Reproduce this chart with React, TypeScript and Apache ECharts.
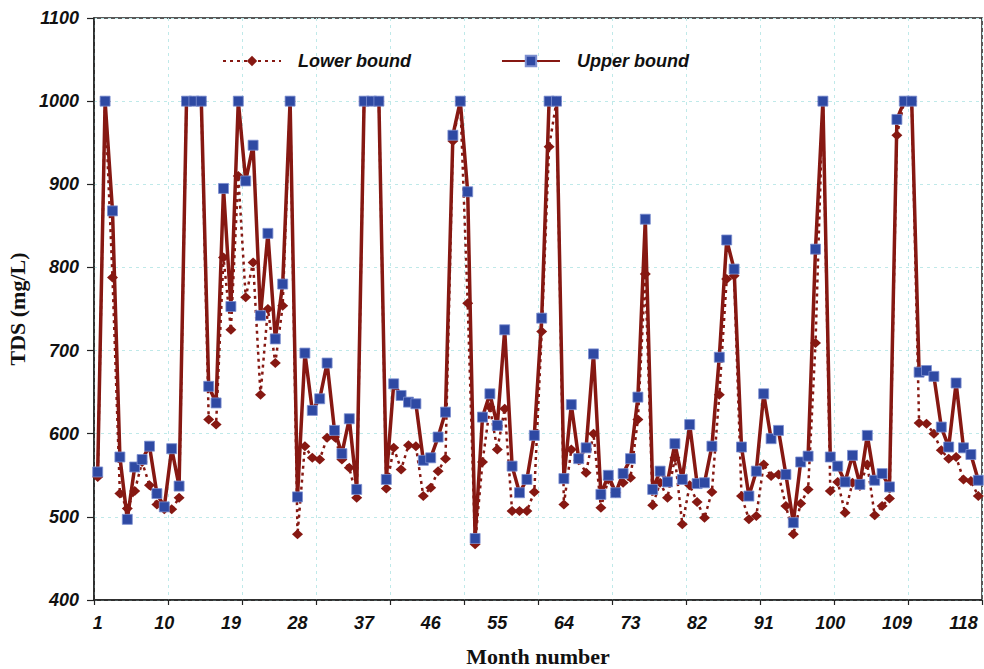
import React, { useEffect, useRef } from "react";
import * as echarts from "echarts";

const months: string[] = Array.from({ length: 120 }, (_, i) => String(i + 1));

const lowerBound: number[] = [
  548, 1000, 788, 528, 510, 531, 566, 538, 515, 509,
  509, 523, 1000, 1000, 1000, 617, 611, 812, 725, 910,
  764, 806, 647, 750, 685, 754, 1000, 479, 585, 571,
  569, 595, 596, 569, 559, 523, 1000, 1000, 1000, 534,
  583, 557, 586, 585, 525, 535, 555, 570, 952, 1000,
  757, 467, 566, 632, 581, 630, 507, 507, 507, 530,
  723, 945, 1000, 515, 581, 568, 553, 600, 511, 545,
  529, 541, 547, 617, 792, 514, 541, 523, 571, 491,
  538, 518, 499, 530, 647, 786, 790, 525, 497, 501,
  563, 549, 551, 513, 479, 516, 533, 709, 1000, 531,
  542, 505, 541, 537, 563, 502, 513, 522, 959, 1000,
  1000, 613, 612, 600, 580, 570, 572, 545, 543, 525,
];

const upperBound: number[] = [
  554, 1000, 868, 572, 497, 560, 569, 585, 528, 512,
  582, 537, 1000, 1000, 1000, 657, 637, 895, 753, 1000,
  904, 947, 742, 841, 714, 780, 1000, 524, 697, 628,
  642, 685, 604, 576, 618, 533, 1000, 1000, 1000, 545,
  660, 646, 638, 636, 568, 571, 596, 626, 959, 1000,
  891, 474, 620, 648, 610, 725, 561, 529, 545, 598,
  739, 1000, 1000, 546, 635, 570, 583, 696, 527, 550,
  529, 552, 570, 644, 858, 533, 555, 542, 588, 545,
  611, 540, 541, 585, 692, 833, 798, 584, 525, 555,
  648, 594, 604, 551, 493, 566, 573, 822, 1000, 572,
  561, 542, 574, 539, 598, 544, 552, 536, 978, 1000,
  1000, 674, 676, 669, 608, 584, 661, 583, 575, 544,
];

const seriesNames: string[] = ["Lower bound", "Upper bound"];

const RED = "#861812";
const BLUE = "#2e49a3";
const GRID = "#bfe9e9";
const SANS = "'Liberation Sans', Arial, sans-serif";
const SERIF = "'Liberation Serif', 'Times New Roman', serif";

export default function App() {
  const ref = useRef<HTMLDivElement>(null);

  useEffect(() => {
    if (!ref.current) return;
    const chart = echarts.init(ref.current, null, { renderer: "svg" });
    const labelFont = {
      fontFamily: SANS,
      fontSize: 18,
      fontWeight: "bold" as const,
      fontStyle: "italic" as const,
      color: "#111",
    };
    chart.setOption({
      animation: false,
      backgroundColor: "#fff",
      grid: {
        left: 94,
        right: 2,
        top: 18,
        bottom: 69,
        show: true,
        borderColor: "#222",
        borderWidth: 1.5,
        backgroundColor: "transparent",
        containLabel: false,
        outerBoundsMode: "none",
      },
      legend: {
        left: 222,
        top: 52,
        padding: 0,
        itemWidth: 58,
        itemHeight: 13,
        itemGap: 90,
        data: seriesNames,
        textStyle: { ...labelFont, padding: [0, 0, 0, 12] },
      },
      xAxis: {
        type: "category",
        data: months,
        boundaryGap: true,
        name: "Month number",
        nameLocation: "middle",
        nameGap: 45,
        nameTextStyle: {
          fontFamily: SERIF,
          fontSize: 22,
          fontWeight: "bold",
          color: "#111",
        },
        axisLine: { show: true, lineStyle: { color: "#222", width: 1.5 } },
        axisTick: {
          show: true,
          interval: 9,
          length: 5,
          lineStyle: { color: "#222", width: 1.2 },
        },
        axisLabel: { ...labelFont, interval: 8, margin: 14 },
        splitLine: {
          show: true,
          interval: 9,
          lineStyle: { color: GRID, type: [3, 4], width: 1 },
        },
      },
      yAxis: {
        type: "value",
        min: 400,
        max: 1100,
        interval: 100,
        name: "TDS (mg/L)",
        nameLocation: "middle",
        nameGap: 59,
        nameRotate: 90,
        nameTextStyle: {
          fontFamily: SERIF,
          fontSize: 22,
          fontWeight: "bold",
          color: "#111",
        },
        axisLine: { show: true, lineStyle: { color: "#222", width: 1.5 } },
        axisTick: {
          show: true,
          length: 7,
          lineStyle: { color: "#222", width: 1.2 },
        },
        axisLabel: { ...labelFont, margin: 15, formatter: (v: number) => String(v) },
        splitLine: {
          show: true,
          lineStyle: { color: GRID, type: [3, 4], width: 1 },
        },
      },
      series: [
        {
          name: seriesNames[0],
          type: "line",
          data: lowerBound,
          symbol: "diamond",
          symbolSize: [11, 10],
          showAllSymbol: true,
          lineStyle: { color: RED, width: 2.5, type: [3, 4] },
          itemStyle: { color: RED, borderWidth: 0 },
          z: 2,
        },
        {
          name: seriesNames[1],
          type: "line",
          data: upperBound,
          symbol: "rect",
          symbolSize: 10,
          showAllSymbol: true,
          lineStyle: { color: RED, width: 3.5, type: "solid" },
          itemStyle: { color: BLUE, borderColor: "#7c8fd0", borderWidth: 0.8 },
          z: 3,
        },
      ],
    });
    return () => chart.dispose();
  }, []);

  return <div ref={ref} style={{ width: 984, height: 669, position: "absolute", left: 0, top: 0 }} />;
}
